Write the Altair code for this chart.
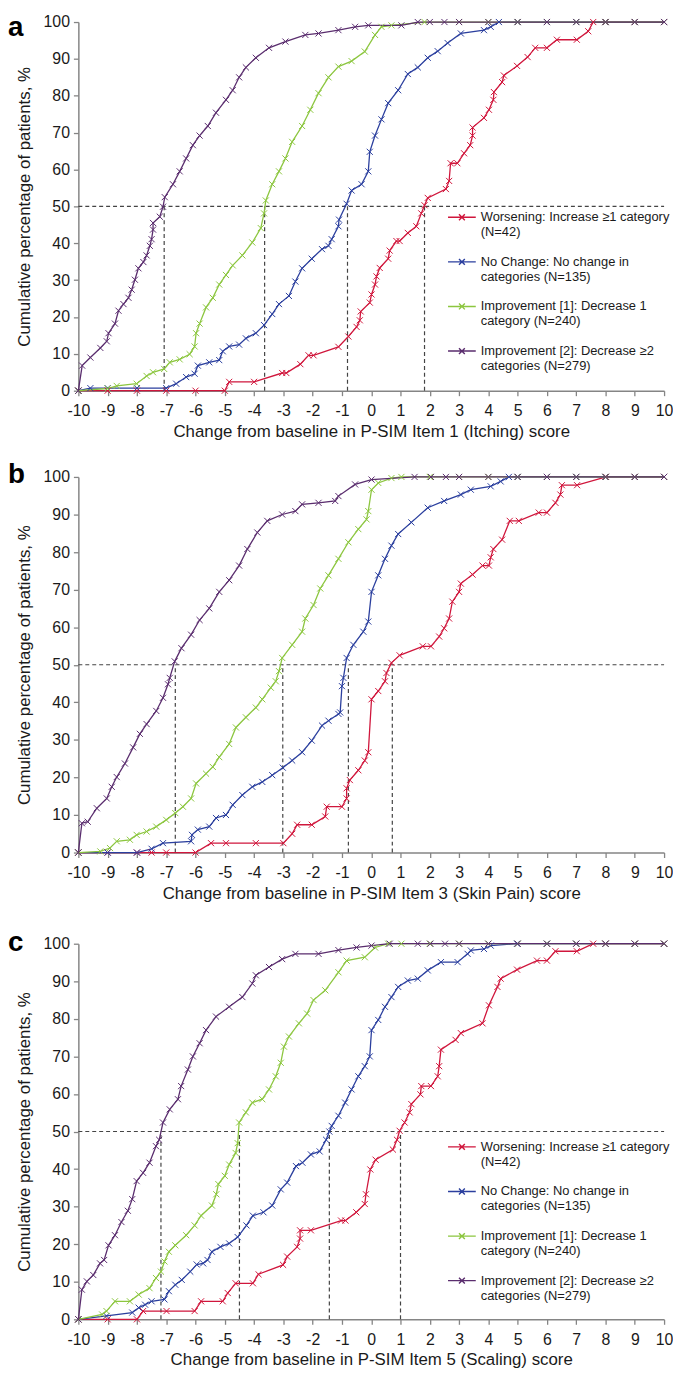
import altair as alt
import pandas as pd

FONT = "Liberation Sans"

SERIES = [
    "Worsening: Increase \u22651 category|(N=42)",
    "No Change: No change in|categories (N=135)",
    "Improvement [1]: Decrease 1|category (N=240)",
    "Improvement [2]: Decrease \u22652|categories (N=279)",
]
COLORS = ["#d0163c", "#2b3f9e", "#8cc63f", "#5a2d6e"]

PANEL_LETTERS = ["a", "b", "c"]
X_TITLES = [
    "Change from baseline in P-SIM Item 1 (Itching) score",
    "Change from baseline in P-SIM Item 3 (Skin Pain) score",
    "Change from baseline in P-SIM Item 5 (Scaling) score",
]
Y_TITLE = "Cumulative percentage of patients, %"
X_TICKS = list(range(-10, 11))
Y_TICKS = list(range(0, 101, 10))

# ---------------- Panel a (Itching) ----------------
A_WORSE = [(-10, 0), (-9, 0), (-8, 0), (-7, 0), (-6, 0), (-5, 0), (-4.85, 2.4), (-4.0, 2.4), (-3.04, 4.8),
           (-2.9, 4.8), (-2.42, 7.2), (-2.14, 9.6), (-1.97, 9.6), (-1.12, 11.9), (-0.78, 14.7), (-0.5, 17.3),
           (-0.39, 19.1), (-0.36, 21.5), (-0.05, 23.9), (0.01, 26.1), (0.13, 28.8), (0.18, 31), (0.29, 33.3),
           (0.58, 35.8), (0.63, 38), (0.86, 40.6), (0.97, 40.6), (1.25, 42.8), (1.54, 44.6), (1.71, 48.1),
           (1.82, 50.3), (1.93, 52.3), (2.55, 54.7), (2.66, 56.9), (2.71, 61.7), (2.94, 61.7), (3.17, 64.4),
           (3.38, 66.6), (3.46, 69.2), (3.46, 71.4), (3.85, 74), (4.02, 76.2), (4.17, 78.9), (4.19, 81),
           (4.47, 83.7), (4.53, 85.5), (4.98, 88.1), (5.34, 90.5), (5.6, 93), (6.0, 93), (6.34, 95.2),
           (7.02, 95.2), (7.41, 97.5), (7.58, 100), (8, 100), (9, 100), (10, 100)]
A_NOCHG = [(-10, 0), (-9.59, 0.7), (-9, 0.7), (-8, 0.7), (-7, 0.7), (-6.66, 1.9), (-6.32, 3.7), (-6.03, 4.6),
           (-5.92, 6.8), (-5.53, 7.7), (-5.19, 8.3), (-5.07, 10.7), (-4.85, 12), (-4.51, 12.5), (-4.28, 14.2),
           (-3.94, 15.6), (-3.66, 17.8), (-3.38, 20.8), (-3.15, 23.5), (-2.81, 25.7), (-2.59, 29.6),
           (-2.36, 33.2), (-2.03, 35.8), (-1.68, 38.4), (-1.46, 39.3), (-1.35, 41.1), (-1.12, 44.6),
           (-1.1, 46.4), (-0.84, 50.7), (-0.67, 54.3), (-0.33, 56), (-0.1, 59.5), (-0.05, 64.8), (0.13, 69.2),
           (0.35, 73.6), (0.58, 78), (0.92, 81.5), (1.25, 85.9), (1.59, 87.7), (1.93, 90.3), (2.27, 92.1),
           (2.61, 94.3), (3.06, 96.9), (3.85, 97.8), (4.08, 98.7), (4.36, 100), (5, 100), (6, 100), (7, 100),
           (8, 100), (9, 100), (10, 100)]
A_IMP1 = [(-10, 0), (-9.0, 0.6), (-8.69, 1.3), (-8.01, 1.9), (-7.67, 4), (-7.45, 5), (-7.07, 5.9), (-6.88, 7.7),
          (-6.54, 8.5), (-6.2, 9.9), (-6.03, 12), (-5.98, 15.6), (-5.86, 18.2), (-5.64, 22.6), (-5.41, 25.2),
          (-5.19, 28.8), (-4.96, 31.4), (-4.73, 34), (-4.4, 36.7), (-4.06, 40.2), (-3.77, 44.1), (-3.66, 48.1),
          (-3.6, 51.6), (-3.38, 56), (-3.15, 59.5), (-2.93, 63), (-2.7, 67.5), (-2.36, 71.8), (-2.08, 76.2),
          (-1.8, 80.7), (-1.46, 85), (-1.12, 87.9), (-0.67, 89.4), (-0.22, 92), (0.13, 96.5), (0.35, 98.7),
          (0.69, 99.1), (1.82, 100), (3, 100), (4, 100), (5, 100), (6, 100), (7, 100), (8, 100), (9, 100),
          (10, 100)]
A_IMP2 = [(-10, 0), (-9.87, 6.8), (-9.59, 9.0), (-9.25, 11.6), (-9.03, 13.4), (-8.97, 15.6), (-8.75, 18.2),
          (-8.63, 21.7), (-8.46, 23.5), (-8.29, 25.2), (-8.18, 27.4), (-8.07, 30.1), (-7.95, 33.2), (-7.78, 34.9),
          (-7.67, 36.7), (-7.56, 39.3), (-7.5, 41.1), (-7.45, 43.7), (-7.45, 45.5), (-7.22, 47.2), (-7.11, 49.9),
          (-7.05, 52.5), (-6.77, 56), (-6.54, 59.5), (-6.32, 63), (-6.09, 66.6), (-5.86, 69.2), (-5.58, 71.8),
          (-5.3, 75.4), (-4.96, 78.9), (-4.73, 81.5), (-4.51, 85), (-4.28, 87.7), (-3.94, 90.3), (-3.49, 93),
          (-2.93, 94.7), (-2.25, 96.5), (-1.8, 96.9), (-1.12, 97.8), (-0.55, 98.7), (-0.1, 99.1), (1.03, 99.1),
          (1.59, 100), (2, 100), (2.5, 100), (3, 100), (4, 100), (5, 100), (6, 100), (7, 100), (8, 100),
          (9, 100), (10, 100)]
A_MEDIANS = [1.82, -0.81, -3.64, -7.07]

# ---------------- Panel b (Skin Pain) ----------------
B_WORSE = [(-10, 0), (-9, 0), (-8, 0), (-7.5, 0), (-7, 0), (-6, 0), (-5.47, 2.5), (-4.96, 2.5), (-3.94, 2.5),
           (-3.0, 2.5), (-2.7, 5), (-2.53, 7.4), (-2.03, 7.4), (-1.57, 9.6), (-1.52, 12.2), (-1.0, 12.2),
           (-0.84, 14.4), (-0.84, 17.1), (-0.73, 19.3), (-0.44, 21.9), (-0.22, 24.5), (-0.1, 26.7), (0.01, 40.8),
           (0.24, 43), (0.47, 45.6), (0.52, 47.8), (0.69, 50.5), (0.97, 52.5), (1.76, 54.9), (2.04, 54.9),
           (2.32, 57.5), (2.49, 59.7), (2.66, 62.3), (2.77, 66.8), (3.0, 69.4), (3.06, 71.6), (3.46, 74),
           (3.8, 76.4), (4.02, 76.4), (4.08, 78.6), (4.17, 80.8), (4.47, 83.3), (4.73, 88.3), (5.04, 88.3),
           (5.72, 90.5), (6.0, 90.5), (6.29, 93.1), (6.46, 95.3), (6.51, 97.8), (7.03, 97.8), (8.02, 100),
           (9, 100), (10, 100)]
B_NOCHG = [(-10, 0), (-9, 0), (-8, 0), (-7.5, 1), (-7.11, 2.5), (-6.15, 3), (-6.12, 4.7), (-5.92, 6.1),
           (-5.53, 6.9), (-5.3, 9.2), (-4.96, 10), (-4.73, 12.7), (-4.4, 15.3), (-4.06, 17.5), (-3.72, 18.8),
           (-3.38, 20.6), (-3.02, 22.6), (-2.7, 24.5), (-2.36, 26.7), (-2.03, 29.8), (-1.68, 33.8), (-1.46, 35.1),
           (-1.12, 36.9), (-1.06, 37.3), (-1.0, 44.3), (-0.95, 46.5), (-0.84, 51.8), (-0.61, 55.3), (-0.27, 58.8),
           (-0.1, 61.5), (0.01, 69.4), (0.24, 73.8), (0.47, 78.2), (0.69, 81.7), (0.92, 84.8), (1.37, 87.9),
           (1.93, 91.8), (2.49, 93.6), (3.06, 95.3), (3.4, 96.6), (4.08, 97.5), (4.42, 98.8), (4.7, 100),
           (5, 100), (6, 100), (7, 100), (8, 100), (9, 100), (10, 100)]
B_IMP1 = [(-10, 0), (-9.25, 0.3), (-8.92, 1.2), (-8.69, 3), (-8.24, 3.4), (-8.01, 4.7), (-7.67, 5.6), (-7.34, 6.9),
          (-7.0, 8.7), (-6.69, 10.5), (-6.43, 12.2), (-6.15, 14.4), (-5.98, 18.4), (-5.64, 21), (-5.41, 22.8),
          (-5.19, 25.4), (-4.85, 28.9), (-4.62, 33.3), (-4.28, 36), (-3.94, 38.6), (-3.72, 40.8), (-3.43, 43.9),
          (-3.26, 45.6), (-3.15, 48.3), (-3.04, 51.8), (-2.7, 55.3), (-2.36, 58.8), (-2.25, 62.3), (-1.97, 65.9),
          (-1.74, 70.3), (-1.46, 73.8), (-1.12, 78.2), (-0.78, 82.6), (-0.44, 86.1), (-0.16, 88.7), (-0.1, 90.9),
          (0.01, 96.6), (0.24, 98.4), (0.69, 99.7), (1.03, 100), (2, 100), (3, 100), (4, 100), (5, 100),
          (6, 100), (7, 100), (8, 100), (9, 100), (10, 100)]
B_IMP2 = [(-10, 0), (-9.88, 7.8), (-9.68, 8.2), (-9.37, 11.8), (-9.03, 14.4), (-8.86, 17.5), (-8.69, 20.1),
          (-8.41, 23.7), (-8.13, 28), (-7.9, 31.6), (-7.67, 34.2), (-7.34, 37.7), (-7.11, 41.2), (-6.94, 44.8),
          (-6.88, 46.5), (-6.71, 50.9), (-6.48, 54.4), (-6.15, 58), (-5.86, 61.9), (-5.53, 65), (-5.19, 69.4),
          (-4.85, 72.5), (-4.51, 76.4), (-4.23, 80.8), (-3.89, 85.2), (-3.55, 88.3), (-3.04, 90), (-2.59, 90.9),
          (-2.36, 92.7), (-1.8, 93.1), (-1.23, 93.6), (-1.12, 94.9), (-0.55, 98), (0.01, 99.3), (1.48, 100),
          (2.04, 100), (2.55, 100), (3, 100), (4, 100), (5, 100), (6, 100), (7, 100), (8, 100), (9, 100),
          (10, 100)]
B_MEDIANS = [0.72, -0.78, -3.02, -6.69]

# ---------------- Panel c (Scaling) ----------------
C_WORSE = [(-10, 0), (-9, 0), (-8, 0), (-7.79, 2.2), (-6.99, 2.2), (-6.03, 2.2), (-5.81, 4.8), (-5.07, 4.8),
           (-4.9, 7), (-4.63, 9.6), (-4.04, 9.6), (-3.85, 12), (-3.01, 14.5), (-2.87, 16.7), (-2.53, 19.3),
           (-2.43, 21.5), (-2.43, 23.7), (-2.06, 23.7), (-1.03, 26.3), (-0.88, 26.3), (-0.51, 28.5), (-0.22, 30.7),
           (-0.18, 33.3), (-0.03, 39.9), (0.15, 42.5), (0.74, 45.2), (0.88, 47.8), (0.97, 50.2), (1.14, 52.4),
           (1.31, 55.1), (1.37, 57.3), (1.68, 59.9), (1.71, 62.1), (2.04, 62.1), (2.27, 64.7), (2.32, 67.4),
           (2.38, 71.8), (2.88, 74.4), (3.06, 76.2), (3.8, 78.8), (4.02, 83.6), (4.31, 88.5), (4.42, 90.7),
           (4.98, 93.1), (5.66, 95.5), (6.0, 95.5), (6.29, 98), (7.02, 98), (7.58, 100), (8, 100), (9, 100),
           (10, 100)]
C_NOCHG = [(-10, 0), (-9.04, 0.9), (-8.16, 1.8), (-7.94, 3.1), (-7.72, 3.9), (-7.5, 4.8), (-7.06, 5.3),
           (-6.91, 7.5), (-6.69, 9.2), (-6.47, 10.5), (-6.18, 12.7), (-5.96, 14.6), (-5.74, 14.9), (-5.59, 15.8),
           (-5.44, 18), (-5.15, 19.3), (-4.85, 20.2), (-4.56, 21.9), (-4.26, 25), (-4.04, 27.6), (-3.68, 28.5),
           (-3.38, 30.3), (-3.09, 34.6), (-2.87, 36.4), (-2.57, 40.8), (-2.35, 41.7), (-2.06, 43.9),
           (-1.76, 44.7), (-1.54, 47.8), (-1.43, 50), (-1.35, 51.5), (-1.12, 54.2), (-0.89, 57.7), (-0.67, 61.2),
           (-0.44, 64.7), (-0.22, 67.4), (-0.05, 70), (0.01, 77), (0.24, 79.7), (0.47, 83.2), (0.69, 85.8),
           (0.92, 88.5), (1.25, 90.2), (1.59, 90.7), (1.93, 92.9), (2.38, 95.1), (2.95, 95.1), (3.29, 97.3),
           (3.4, 98.2), (3.85, 98.6), (4.08, 99.5), (4.98, 100), (6, 100), (7, 100), (8, 100), (9, 100),
           (10, 100)]
C_IMP1 = [(-10, 0), (-9.19, 1.3), (-9.04, 2.2), (-8.75, 4.8), (-8.24, 4.8), (-7.94, 6.6), (-7.57, 8.3),
          (-7.35, 11), (-7.18, 12.7), (-7.06, 15.4), (-6.91, 18), (-6.69, 19.7), (-6.32, 22.4), (-6.03, 25),
          (-5.81, 27.6), (-5.44, 30.3), (-5.29, 33.3), (-5.22, 36), (-5.0, 38.2), (-4.85, 41.2), (-4.63, 44.3),
          (-4.56, 46.9), (-4.51, 52.4), (-4.28, 55.1), (-4.06, 57.7), (-3.72, 58.6), (-3.49, 61.2), (-3.26, 64.7),
          (-3.09, 68.3), (-2.98, 72.6), (-2.81, 75.3), (-2.47, 78.8), (-2.19, 81.4), (-1.97, 85), (-1.57, 87.6),
          (-1.12, 92.4), (-0.84, 95.5), (-0.22, 96.4), (0.13, 99), (0.58, 100), (1.03, 100), (2, 100), (3, 100),
          (4, 100), (5, 100), (6, 100), (7, 100), (8, 100), (9, 100), (10, 100)]
C_IMP2 = [(-10, 0), (-9.88, 7.9), (-9.71, 10.1), (-9.49, 11.8), (-9.26, 14.9), (-9.12, 15.8), (-8.97, 19.7),
          (-8.75, 22.4), (-8.53, 25.9), (-8.31, 28.9), (-8.16, 32), (-8.01, 36.8), (-7.79, 39), (-7.57, 41.7),
          (-7.35, 46.1), (-7.24, 47.8), (-7.11, 52.4), (-6.88, 55.9), (-6.6, 58.6), (-6.49, 62.1), (-6.26, 66.5),
          (-6.09, 70), (-5.86, 73.5), (-5.64, 77), (-5.3, 80.6), (-4.85, 83.2), (-4.4, 85.8), (-4.06, 89.4),
          (-3.94, 91.6), (-3.49, 93.8), (-3.04, 95.9), (-2.59, 97.3), (-1.8, 97.3), (-1.12, 98.3), (-0.5, 99),
          (0.01, 99.5), (0.63, 100), (1.59, 100), (2.02, 100), (2.52, 100), (3, 100), (4, 100), (5, 100),
          (6, 100), (7, 100), (8, 100), (9, 100), (10, 100)]
C_MEDIANS = [1.0, -1.43, -4.5, -7.18]

PANELS = [
    ([A_WORSE, A_NOCHG, A_IMP1, A_IMP2], A_MEDIANS),
    ([B_WORSE, B_NOCHG, B_IMP1, B_IMP2], B_MEDIANS),
    ([C_WORSE, C_NOCHG, C_IMP1, C_IMP2], C_MEDIANS),
]
LETTER_Y = [14.5, 6, 7]
LEGEND_Y = [182, 190, 190]
HEIGHTS = [372, 379, 379]

XMARK = "M-1,-1L1,1M-1,1L1,-1"
LEGEND_SYMBOL = "M-1,0L1,0M-0.21,-0.21L0.21,0.21M-0.21,0.21L0.21,-0.21"

W = 591
AXIS_GREY = "#858585"
TEXT = "#1a1a1a"

AXIS_STYLE = dict(
    grid=False, tickSize=5, tickWidth=1.3, tickColor=AXIS_GREY, domainColor=AXIS_GREY, domainWidth=1.5,
    labelFont=FONT, labelFontSize=16, labelColor=TEXT, labelOverlap=False, labelFlush=False,
    titleFont=FONT, titleFontSize=17, titleFontWeight="normal", titleColor=TEXT,
)


def panel(idx):
    series_pts, medians = PANELS[idx]
    rows = []
    for s, pts in zip(SERIES, series_pts):
        for i, (x, y) in enumerate(pts):
            rows.append({"series": s, "x": x, "y": y, "i": i})
    df = pd.DataFrame(rows)

    xs = alt.Scale(domain=[-10, 10], nice=False)
    ys = alt.Scale(domain=[0, 100], nice=False)
    xaxis = alt.Axis(values=X_TICKS, title=X_TITLES[idx], labelExpr="'' + datum.value",
                     labelPadding=7, titlePadding=5, **AXIS_STYLE)
    yaxis = alt.Axis(values=Y_TICKS, title=Y_TITLE, labelPadding=4, titlePadding=10, **AXIS_STYLE)

    def X(field):
        return alt.X(field, scale=xs, axis=xaxis)

    def Y(field):
        return alt.Y(field, scale=ys, axis=yaxis)

    color = alt.Color(
        "series:N",
        scale=alt.Scale(domain=SERIES, range=COLORS),
        legend=alt.Legend(
            title=None, orient="none", legendX=372, legendY=LEGEND_Y[idx],
            symbolType=LEGEND_SYMBOL, symbolSize=784, symbolStrokeWidth=1.4,
            symbolFillColor="transparent",
            labelFont=FONT, labelFontSize=13, labelColor=TEXT, labelLimit=400,
            labelExpr="split(datum.label, '|')", labelOffset=4, rowPadding=8, padding=0,
        ),
    )

    hline = alt.Chart(pd.DataFrame({"x0": [-10], "x1": [10], "y": [50]})).mark_rule(
        strokeDash=[4, 3], color="#444444", strokeWidth=1.2
    ).encode(x=X("x0:Q"), x2="x1:Q", y=Y("y:Q"))

    vlines = alt.Chart(pd.DataFrame({"x": medians, "y0": [0] * 4, "y1": [50] * 4})).mark_rule(
        strokeDash=[4, 3], color="#444444", strokeWidth=1.2
    ).encode(x=X("x:Q"), y=Y("y0:Q"), y2="y1:Q")

    base = alt.Chart(df)
    lines = base.mark_line(strokeWidth=1.3).encode(
        x=X("x:Q"), y=Y("y:Q"), color=color, order="i:Q"
    )
    pts = base.mark_point(shape=XMARK, size=38, filled=False, strokeWidth=1, opacity=1).encode(
        x=X("x:Q"), y=Y("y:Q"), color=color
    )

    letter = alt.Chart(pd.DataFrame({"t": [PANEL_LETTERS[idx]]})).mark_text(
        font=FONT, fontSize=28, fontWeight="bold", align="left", baseline="alphabetic", color="#000000"
    ).encode(x=alt.value(-71), y=alt.value(LETTER_Y[idx]), text="t:N")

    return alt.layer(hline, vlines, lines, pts, letter).properties(width=W, height=HEIGHTS[idx])


top_pair = alt.vconcat(panel(0), panel(1), spacing=22)
chart = alt.vconcat(top_pair, panel(2), spacing=28, padding=0).resolve_scale(
    color="independent"
).resolve_legend(color="independent").configure_view(stroke=None)

chart.save("out.html", embed_options={"renderer": "svg", "actions": False})
